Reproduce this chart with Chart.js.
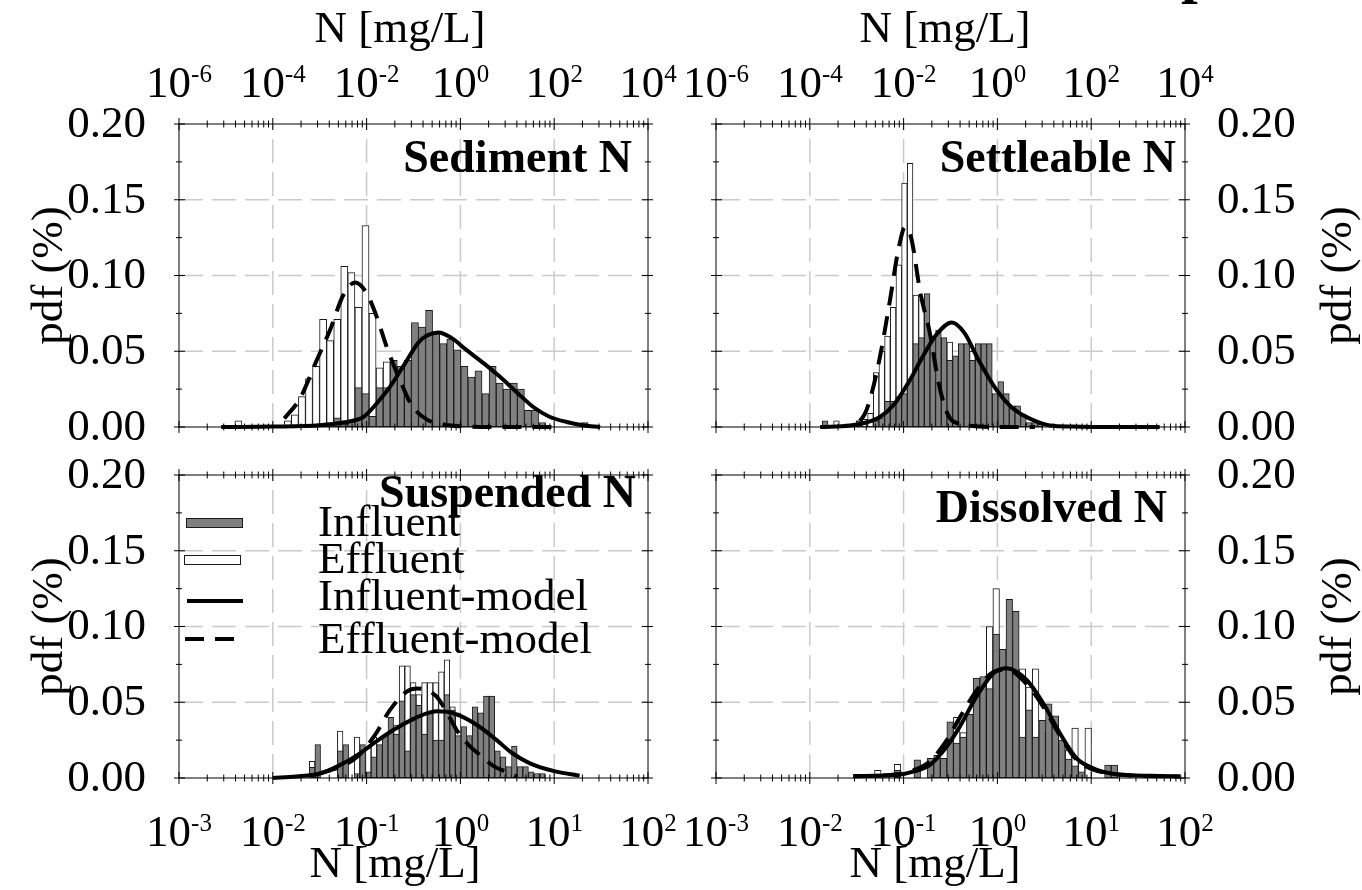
<!DOCTYPE html>
<html>
<head>
<meta charset="utf-8">
<title>pdf of N fractions</title>
<script src="https://cdn.jsdelivr.net/npm/chart.js@4.4.1/dist/chart.umd.min.js"></script>
<style>
	body { margin: 0; background: #fff; }
	#page { position: relative; width: 1362px; height: 890px; overflow: hidden; background: #fff; }
	#page canvas { position: absolute; left: 0; top: 0; }
</style>
</head>
<body>
<div id="page">
	<canvas id="sediment" width="1362" height="890"></canvas>
	<canvas id="settleable" width="1362" height="890"></canvas>
	<canvas id="suspended" width="1362" height="890"></canvas>
	<canvas id="dissolved" width="1362" height="890"></canvas>
</div>
<script>

var bottomTickExps = [ -3, -2, -1, 0, 1, 2 ];
var topTickExps = [ -6, -4, -2, 0, 2, 4 ];
var yTickValues = [ 0, 0.05, 0.10, 0.15, 0.20 ];
var legendNames = [ 'Influent', 'Effluent', 'Influent-model', 'Effluent-model' ];

// Sediment N
var sedBins = [ -2.367, -2.292, -2.217, -2.141, -2.066, -1.991, -1.915, -1.840, -1.765, -1.689,
		-1.614, -1.539, -1.464, -1.388, -1.313, -1.238, -1.162, -1.087, -1.012, -0.936,
		-0.861, -0.786, -0.711, -0.635, -0.560, -0.485, -0.409, -0.334, -0.259, -0.183,
		-0.108, -0.033, 0.043, 0.118, 0.193, 0.268, 0.344, 0.419, 0.494, 0.570,
		0.645, 0.720, 0.796, 0.871, 0.946, 1.021, 1.097, 1.172, 1.247, 1.323 ];
var sedInfluent = [ 0, 0, 0, 0, 0, 0, 0, 0, 0, 0,
		0, 0, 0, 0, 0.006, 0.002, 0.004, 0.026, 0.022, 0.007,
		0.026, 0.026, 0.044, 0.040, 0.044, 0.069, 0.066, 0.077, 0.062, 0.055,
		0.058, 0.051, 0.040, 0.033, 0.037, 0.022, 0.040, 0.029, 0.025, 0.029,
		0.025, 0.011, 0.011, 0.003, 0, 0, 0, 0, 0, 0.003 ];
var sedEffluent = [ 0.004, 0, 0, 0, 0, 0, 0, 0.004, 0.008, 0.020,
		0.032, 0.040, 0.071, 0.057, 0.071, 0.106, 0.102, 0.079, 0.133, 0.075,
		0.039, 0.043, 0.030, 0.020, 0.012, 0.008, 0.006, 0.004, 0.002, 0,
		0, 0, 0, 0, 0, 0, 0, 0, 0, 0,
		0, 0, 0, 0, 0, 0, 0, 0, 0, 0 ];
var sedInfModelX = [ -2.55, -2.0, -1.5, -1.25, -1.035, -0.9, -0.751, -0.6, -0.441, -0.35, -0.236,
		-0.1, 0.067, 0.25, 0.422, 0.6, 0.777, 0.95, 1.133, 1.3, 1.49 ];
var sedInfModelY = [ 0.0, 0.0003, 0.0012, 0.003, 0.0066, 0.015, 0.0265, 0.041, 0.0562, 0.0605, 0.0624,
		0.059, 0.0507, 0.042, 0.0331, 0.023, 0.0132, 0.0068, 0.0033, 0.0012, 0.0 ];
var sedEffModelX = [ -1.877, -1.71, -1.532, -1.39, -1.248, -1.124, -0.999, -0.892, -0.786, -0.644,
		-0.519, -0.359, -0.2, 0.0, 0.4, 1.05 ];
var sedEffModelY = [ 0.0056, 0.0188, 0.0441, 0.064, 0.0871, 0.0953, 0.0882, 0.0727, 0.0529, 0.0309,
		0.0143, 0.005, 0.002, 0.0005, 0.0, 0.0 ];

// Settleable N
var setBins = [ -1.897, -1.837, -1.776, -1.716, -1.655, -1.595, -1.535, -1.474, -1.414, -1.353,
		-1.293, -1.233, -1.172, -1.112, -1.051, -0.991, -0.931, -0.870, -0.810, -0.749,
		-0.689, -0.629, -0.568, -0.508, -0.447, -0.387, -0.327, -0.266, -0.206, -0.145,
		-0.085, -0.025, 0.036, 0.096, 0.157, 0.217, 0.277, 0.338, 0.398, 0.459, 0.519 ];
var setInfluent = [ 0, 0.004, 0, 0, 0, 0, 0, 0.004, 0, 0,
		0.004, 0.006, 0.017, 0.017, 0.020, 0.022, 0.030, 0.055, 0.059, 0.088,
		0.060, 0.064, 0.059, 0.044, 0.047, 0.055, 0.055, 0.044, 0.055, 0.055,
		0.055, 0.022, 0.030, 0.022, 0.014, 0.014, 0.008, 0.003, 0.003, 0.002, 0 ];
var setEffluent = [ 0, 0, 0, 0.004, 0, 0, 0, 0.004, 0.005, 0.009,
		0.036, 0.050, 0.060, 0.079, 0.107, 0.161, 0.174, 0.087, 0.084, 0.050,
		0.030, 0.020, 0.010, 0.056, 0.010, 0.005, 0, 0.050, 0, 0,
		0, 0, 0, 0, 0, 0, 0, 0, 0, 0, 0 ];
var setInfModelX = [ -1.89, -1.571, -1.4, -1.252, -1.1, -0.932, -0.8, -0.65, -0.487, -0.35,
		-0.2, -0.008, 0.15, 0.276, 0.4, 0.561, 0.8, 1.1, 1.5, 1.73 ];
var setInfModelY = [ 0.0, 0.001, 0.003, 0.0066, 0.015, 0.031, 0.046, 0.061, 0.069, 0.062,
		0.044, 0.0243, 0.013, 0.0077, 0.004, 0.001, 0.0003, 0.0, 0.0, 0.0 ];
var setEffModelX = [ -1.465, -1.412, -1.35, -1.252, -1.145, -1.056, -0.985, -0.92, -0.82, -0.719,
		-0.63, -0.559, -0.505, -0.4, -0.324, 0.0, 0.4 ];
var setEffModelY = [ 0.004, 0.0088, 0.02, 0.0463, 0.0838, 0.117, 0.132, 0.125, 0.088, 0.0617,
		0.03, 0.013, 0.0058, 0.002, 0.0011, 0.0, 0.0 ];

// Suspended N
var susBins = [ -1.581, -1.521, -1.461, -1.401, -1.341, -1.282, -1.222, -1.162, -1.102, -1.042,
		-0.982, -0.922, -0.862, -0.802, -0.742, -0.683, -0.623, -0.563, -0.503, -0.443,
		-0.383, -0.323, -0.263, -0.203, -0.143, -0.084, -0.024, 0.036, 0.096, 0.156,
		0.216, 0.276, 0.336, 0.396, 0.456, 0.515, 0.575, 0.635, 0.695, 0.755,
		0.815, 0.875, 0.935 ];
var susInfluent = [ 0.007, 0.022, 0, 0, 0, 0.018, 0.022, 0, 0.003, 0.022,
		0.004, 0.014, 0.022, 0.028, 0.040, 0.029, 0.051, 0.018, 0.055, 0.048,
		0.029, 0.043, 0.025, 0.025, 0.055, 0.045, 0.028, 0.034, 0.028, 0.047,
		0.043, 0.054, 0.054, 0.018, 0.014, 0.0075, 0.021, 0.0075, 0.0075, 0.004,
		0.003, 0.003, 0 ];
var susEffluent = [ 0.011, 0, 0, 0, 0, 0.031, 0, 0, 0.027, 0.010,
		0.020, 0.027, 0.015, 0.020, 0.030, 0.035, 0.074, 0.074, 0.063, 0.055,
		0.063, 0.063, 0.063, 0.070, 0.078, 0.047, 0.043, 0.025, 0.015, 0.010,
		0.008, 0.005, 0.004, 0.003, 0.003, 0.002, 0, 0, 0, 0.003,
		0, 0, 0 ];
var susInfModelX = [ -2.0, -1.75, -1.497, -1.3, -1.07, -0.9, -0.715, -0.5, -0.359, -0.25,
		-0.146, 0.0, 0.2, 0.387, 0.55, 0.742, 1.0, 1.27 ];
var susInfModelY = [ 0.0, 0.001, 0.003, 0.008, 0.0163, 0.024, 0.0317, 0.039, 0.0427, 0.044,
		0.0438, 0.041, 0.034, 0.025, 0.0165, 0.0097, 0.0045, 0.0015 ];
var susEffModelX = [ -1.5, -1.3, -1.1, -0.91, -0.75, -0.572, -0.466, -0.36, -0.253, -0.15,
		-0.04, 0.1, 0.209, 0.35, 0.494, 0.6 ];
var susEffModelY = [ 0.003, 0.007, 0.014, 0.0284, 0.045, 0.057, 0.059, 0.058, 0.0537, 0.044,
		0.0317, 0.021, 0.0152, 0.008, 0.004, 0.001 ];

// Dissolved N
var disBins = [ -1.275, -1.205, -1.135, -1.065, -0.995, -0.925, -0.854, -0.784, -0.714, -0.644,
		-0.574, -0.504, -0.434, -0.364, -0.294, -0.223, -0.153, -0.083, -0.013, 0.057,
		0.127, 0.197, 0.267, 0.337, 0.407, 0.478, 0.548, 0.618, 0.688, 0.758,
		0.828, 0.898, 0.968, 1.038, 1.108, 1.178, 1.248, 1.319 ];
var disInfluent = [ 0, 0, 0, 0.005, 0, 0, 0.012, 0, 0.013, 0.015,
		0.013, 0.037, 0.023, 0.027, 0.042, 0.066, 0.067, 0.059, 0.095, 0.085,
		0.118, 0.110, 0.027, 0.045, 0.027, 0.038, 0.049, 0.041, 0.025, 0.0125,
		0.008, 0.004, 0, 0, 0, 0.0086, 0.0086, 0 ];
var disEffluent = [ 0.005, 0, 0, 0.009, 0, 0, 0, 0, 0, 0,
		0, 0, 0.040, 0.030, 0.040, 0.060, 0.065, 0.100, 0.125, 0.080,
		0.090, 0.070, 0.072, 0.060, 0.072, 0.030, 0.030, 0.030, 0.020, 0.0185,
		0.033, 0.010, 0.033, 0, 0, 0, 0, 0 ];
var disInfModelX = [ -1.536, -1.074, -0.897, -0.719, -0.54, -0.4, -0.22, -0.044, 0.099, 0.312,
		0.489, 0.667, 0.845, 1.022, 1.2, 1.378, 1.733, 1.947 ];
var disInfModelY = [ 0.0013, 0.002, 0.0042, 0.0086, 0.0207, 0.034, 0.054, 0.069, 0.0724, 0.0647,
		0.0493, 0.0295, 0.013, 0.0064, 0.0031, 0.002, 0.0013, 0.001 ];
var disEffModelX = [ -1.536, -1.074, -0.897, -0.719, -0.54, -0.4, -0.22, -0.044, 0.099, 0.312,
		0.489, 0.667, 0.845, 1.022, 1.2, 1.378, 1.733, 1.947 ];
var disEffModelY = [ 0.001, 0.0025, 0.005, 0.011, 0.025, 0.040, 0.058, 0.070, 0.0715, 0.062,
		0.047, 0.028, 0.012, 0.0055, 0.003, 0.0018, 0.0012, 0.001 ];

(function() {
	'use strict';
	var W = 1362, H = 890;
	var FONT = '"Liberation Serif", "Times New Roman", Times, serif';
	var GRAY = '#808080';

	var panels = [
		{ id : 'sediment', box : [ 179, 124, 648, 427 ], title : 'Sediment N', titleX : 632, titleY : 172,
			ySide : 'left', xSide : 'top', xTitleX : 400,
			bins : sedBins, inf : sedInfluent, eff : sedEffluent,
			infX : sedInfModelX, infY : sedInfModelY, effX : sedEffModelX, effY : sedEffModelY },
		{ id : 'settleable', box : [ 716, 124, 1185, 427 ], title : 'Settleable N', titleX : 1176, titleY : 172,
			ySide : 'right', xSide : 'top', xTitleX : 945, cutGlyph : true,
			bins : setBins, inf : setInfluent, eff : setEffluent,
			infX : setInfModelX, infY : setInfModelY, effX : setEffModelX, effY : setEffModelY },
		{ id : 'suspended', box : [ 179, 475, 648, 778 ], title : 'Suspended N', titleX : 636, titleY : 507,
			ySide : 'left', xSide : 'bottom', xTitleX : 395, legend : true,
			bins : susBins, inf : susInfluent, eff : susEffluent,
			infX : susInfModelX, infY : susInfModelY, effX : susEffModelX, effY : susEffModelY },
		{ id : 'dissolved', box : [ 716, 475, 1185, 778 ], title : 'Dissolved N', titleX : 1167, titleY : 522,
			ySide : 'right', xSide : 'bottom', xTitleX : 935,
			bins : disBins, inf : disInfluent, eff : disEffluent,
			infX : disInfModelX, infY : disInfModelY, effX : disEffModelX, effY : disEffModelY } ];

	function points(logs, ys) {
		return logs.map(function(v, i) {
			return { x : Math.pow(10, v), y : ys[i] };
		});
	}

	function line(ctx, x1, y1, x2, y2) {
		ctx.beginPath();
		ctx.moveTo(x1, y1);
		ctx.lineTo(x2, y2);
		ctx.stroke();
	}

	// "10" with a raised exponent, centred on cx
	function drawPow(ctx, exp, cx, base) {
		var e = String(exp);
		ctx.font = '45px ' + FONT;
		var w1 = ctx.measureText('10').width;
		ctx.font = '25px ' + FONT;
		var w2 = ctx.measureText(e).width;
		var x0 = cx - (w1 + w2) / 2;
		ctx.textAlign = 'left';
		ctx.textBaseline = 'alphabetic';
		ctx.font = '45px ' + FONT;
		ctx.fillText('10', x0, base);
		ctx.font = '25px ' + FONT;
		ctx.fillText(e, x0 + w1, base - 15);
	}

	function drawGrid(chart) {
		var ctx = chart.ctx, a = chart.chartArea;
		var xs = chart.scales.x, ys = chart.scales.y;
		ctx.save();
		ctx.strokeStyle = '#cacaca';
		ctx.lineWidth = 1.5;
		ctx.setLineDash([ 24, 9 ]);
		bottomTickExps.forEach(function(e) {
			var px = xs.getPixelForValue(Math.pow(10, e));
			if (px > a.left + 2 && px < a.right - 2) {
				line(ctx, px, a.bottom, px, a.top);
			}
		});
		yTickValues.forEach(function(v) {
			var py = ys.getPixelForValue(v);
			if (py > a.top + 2 && py < a.bottom - 2) {
				line(ctx, a.left, py, a.right, py);
			}
		});
		ctx.restore();
	}

	function drawFrame(chart, p) {
		var ctx = chart.ctx, a = chart.chartArea;
		var xs = chart.scales.x, x2 = chart.scales.x2, ys = chart.scales.y;
		ctx.save();
		ctx.strokeStyle = '#000';
		ctx.fillStyle = '#000';
		ctx.lineWidth = 1;
		ctx.setLineDash([]);
		ctx.strokeRect(a.left, a.top, a.right - a.left, a.bottom - a.top);

		// x ticks (log, minor at 2..9) on both horizontal edges
		var e, m;
		for (e = -3; e <= 2; e++) {
			for (m = 1; m <= 9; m++) {
				if (e === 2 && m > 1) {
					break;
				}
				var px = xs.getPixelForValue(m * Math.pow(10, e));
				var len = m === 1 ? 6 : 3.5;
				line(ctx, px, a.top - len, px, a.top + len);
				line(ctx, px, a.bottom - len, px, a.bottom + len);
			}
		}
		// y ticks, minor halfway between labelled ones
		for (var i = 0; i < yTickValues.length; i++) {
			var py = ys.getPixelForValue(yTickValues[i]);
			line(ctx, a.left - 5, py, a.left + 6, py);
			line(ctx, a.right - 6, py, a.right + 5, py);
			if (i < yTickValues.length - 1) {
				var pm = ys.getPixelForValue((yTickValues[i] + yTickValues[i + 1]) / 2);
				line(ctx, a.left - 3, pm, a.left + 3, pm);
				line(ctx, a.right - 3, pm, a.right + 3, pm);
			}
		}

		// x tick labels and axis title
		if (p.xSide === 'top') {
			topTickExps.forEach(function(ex) {
				drawPow(ctx, ex, x2.getPixelForValue(Math.pow(10, ex)), 97);
			});
			ctx.font = '45px ' + FONT;
			ctx.textAlign = 'center';
			ctx.fillText('N [mg/L]', p.xTitleX, 42);
		} else {
			bottomTickExps.forEach(function(ex) {
				drawPow(ctx, ex, xs.getPixelForValue(Math.pow(10, ex)), 846);
			});
			ctx.font = '45px ' + FONT;
			ctx.textAlign = 'center';
			ctx.fillText('N [mg/L]', p.xTitleX, 877);
		}

		// y tick labels and axis title
		ctx.font = '45px ' + FONT;
		ctx.textBaseline = 'middle';
		ctx.textAlign = p.ySide === 'left' ? 'right' : 'left';
		var lx = p.ySide === 'left' ? a.left - 33 : a.right + 32;
		yTickValues.forEach(function(v) {
			ctx.fillText(v.toFixed(2), lx, ys.getPixelForValue(v) + 1);
		});
		ctx.save();
		ctx.translate(p.ySide === 'left' ? 62 : 1351, (a.top + a.bottom) / 2);
		ctx.rotate(-Math.PI / 2);
		ctx.textAlign = 'center';
		ctx.textBaseline = 'alphabetic';
		ctx.fillText('pdf (%)', 0, 0);
		ctx.restore();

		// panel title
		ctx.font = 'bold 46px ' + FONT;
		ctx.textAlign = 'right';
		ctx.textBaseline = 'alphabetic';
		ctx.fillText(p.title, p.titleX, p.titleY);

		// page title sits above the top edge; only the tail of its last letter shows
		if (p.cutGlyph) {
			ctx.font = 'bold 60px ' + FONT;
			ctx.textAlign = 'left';
			ctx.fillText('p', 1181, -9);
		}

		if (p.legend) {
			drawLegend(ctx);
		}
		ctx.restore();
	}

	function drawLegend(ctx) {
		ctx.save();
		ctx.lineWidth = 1;
		ctx.strokeStyle = '#1a1a1a';
		ctx.fillStyle = GRAY;
		ctx.fillRect(186, 518, 56, 9);
		ctx.strokeRect(186.5, 518.5, 56, 9);
		ctx.fillStyle = '#fff';
		ctx.fillRect(184, 555, 56, 9);
		ctx.strokeRect(184.5, 555.5, 56, 9);
		ctx.strokeStyle = '#000';
		ctx.lineWidth = 4;
		line(ctx, 187, 601, 243, 601);
		ctx.setLineDash([ 19, 11 ]);
		line(ctx, 185, 639, 234, 639);
		ctx.setLineDash([]);
		ctx.fillStyle = '#000';
		ctx.font = '45px ' + FONT;
		ctx.textAlign = 'left';
		ctx.textBaseline = 'alphabetic';
		var baselines = [ 536, 573, 610, 653 ];
		legendNames.forEach(function(name, i) {
			ctx.fillText(name, 318, baselines[i]);
		});
		ctx.restore();
	}

	function makeChart(p) {
		// both histograms share one stack id so they overlap on the same bins
		var barStyle = {
			borderColor : '#1a1a1a',
			borderWidth : 1,
			borderSkipped : false,
			barThickness : 'flex',
			barPercentage : 1,
			categoryPercentage : 1,
			stack : 'hist'
		};
		var lineStyle = {
			type : 'line',
			borderColor : '#000',
			borderWidth : 4,
			pointRadius : 0,
			fill : false,
			clip : false,
			cubicInterpolationMode : 'monotone',
			order : 0
		};
		return new Chart(document.getElementById(p.id), {
			type : 'bar',
			data : {
				datasets : [
						Object.assign({ label : legendNames[2], data : points(p.infX, p.infY) }, lineStyle),
						Object.assign({ label : legendNames[3], data : points(p.effX, p.effY), borderDash : [ 19, 11 ] }, lineStyle),
						Object.assign({ label : legendNames[0], data : points(p.bins, p.inf), backgroundColor : GRAY, order : 1 }, barStyle),
						Object.assign({ label : legendNames[1], data : points(p.bins, p.eff), backgroundColor : '#ffffff', order : 2 }, barStyle) ]
			},
			options : {
				responsive : false,
				animation : false,
				events : [],
				layout : {
					padding : { left : p.box[0], top : p.box[1], right : W - p.box[2], bottom : H - p.box[3] }
				},
				plugins : {
					legend : { display : false },
					tooltip : { enabled : false }
				},
				scales : {
					x : { type : 'logarithmic', min : 1e-3, max : 1e2, display : false, offset : false, grid : { offset : false } },
					x2 : { type : 'logarithmic', position : 'top', min : 1e-6, max : 1e4, display : false },
					y : { type : 'linear', min : 0, max : 0.2, stacked : false, display : false }
				}
			},
			plugins : [ {
				id : 'panelFrame',
				beforeDatasetsDraw : function(chart) {
					drawGrid(chart);
				},
				afterDatasetsDraw : function(chart) {
					drawFrame(chart, p);
				}
			} ]
		});
	}

	panels.forEach(makeChart);
})();
</script>
</body>
</html>
